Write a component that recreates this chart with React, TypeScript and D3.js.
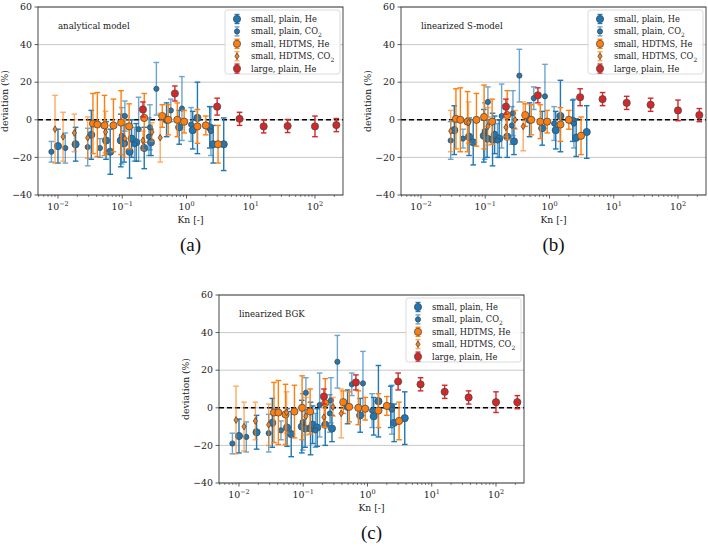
import { useEffect, useRef } from "react";
import * as d3 from "d3";

const knPlainHe = [0.010, 0.0188, 0.033, 0.056, 0.065, 0.095, 0.107, 0.13, 0.14, 0.165, 0.22, 0.28, 0.49, 0.77, 1.25, 1.48, 2.3, 2.6, 3.8];
const errPlainHe = [9, 9, 13, 10, 12, 14, 10, 14, 10, 10, 11, 7, 9, 9, 10, 19, 11, 10, 14];
const plainHeA = [-14, -13, -8, -11, -17, -11, -12.5, -17, -10, -12, -15, -12, 0, -4, -5.5, 1, -4, -13, -13];
const plainHeB = [null, null, -5.5, -9, -12, -8.5, -10, -10.5, -8, -10, -9, -11.5, 0, -4.5, -5.5, 2, -0.5, -9.5, -6.5];
const plainHeC = [-15, -13, -8, -10.5, -14, -10, -11, -11, -9, -10.5, -9, -11, 0.5, -4, -4.5, 3.5, 0.5, -8, -5.5];

const knPlainCO2 = [0.0079, 0.013, 0.029, 0.045, 0.098, 0.11, 0.155, 0.18, 0.26, 0.27, 0.34, 0.57, 0.85, 1.18, 2.4];
const errPlainCO2 = [5.5, 8, 10, 5, 15, 8, 9, 17, 10, 12, 14, 6, 17, 9, 13];
const plainCO2A = [-17, -15, -14.5, -15, -8.5, 2, -13, -5, -9, -4, 16.5, 5, 6, -2.5, -6];
const plainCO2B = [null, null, -11, -10, -6, 9.5, -11, 2, -3, 3.5, 23.5, 11.5, 12.5, -2, -2];
const plainCO2C = [-19, -15.5, -13.5, -12, -7.5, 8, -12, 1.5, -3, 4, 24.5, 12.5, 13, -1.5, -1];

const knHdtmsHe = [0.035, 0.041, 0.053, 0.073, 0.096, 0.128, 0.22, 0.42, 0.52, 0.72, 0.92, 1.48, 2.0, 3.1];
const errHdtmsHe = [16, 17, 16, 14, 17, 12, 13, 6, 8, 9, 6, 9, 5, 10];
const hdtmsHeA = [-2, -2.5, -3, -3, -1.5, -3.5, 1, 2, 0, 0, -1, -3.5, -3, -13];
const hdtmsHeB = [0.5, 0, -1, 0, 1.5, -1, 2.5, 2.5, 0, -1, -1, -2.5, 0, -8.5];
const hdtmsHeC = [-2.5, -2.5, -3.5, -2, 0, -2, 2.5, 3, 0.5, 0, -0.5, -1.5, 1, -7];

const knHdtmsCO2 = [0.009, 0.012, 0.018, 0.029, 0.055, 0.11, 0.21, 0.29, 0.39];
const errHdtmsCO2 = [18, 13, 10, 11, 11, 10, 5, 5, 13];
const hdtmsCO2A = [-5, -9, -7, -9.5, -6.5, -10, -11, -6.5, -9.5];
const hdtmsCO2B = [null, null, null, -6, -1.5, -3.5, -4, 0, -3.5];
const hdtmsCO2C = [-6.5, -10, -7, -9, -2.5, -4.5, -5, 0.5, -3];

const knLargeHe = [0.21, 0.66, 3.0, 6.7, 15.9, 37.5, 100, 215];
const errLargeHe = [4, 4, 4.5, 3.5, 3.5, 3.5, 5.5, 3.5];
const largeHeA = [5.5, 14, 7, 0.5, -3.5, -3.3, -3.5, -2.8];
const largeHeB = [7, 13, 12, 11, 9, 8, 5, 2.5];
const largeHeC = [6, 13.5, 14, 12.5, 8.5, 5.5, 3, 3];

const yTicks = [-40, -20, 0, 20, 40, 60];
const xDecades = [-2, -1, 0, 1, 2];

type Series = {
    label: string;
    sub?: string;
    color: string;
    barOpacity: number;
    marker: "circle" | "diamond";
    size: number;
    kn: number[];
    err: number[];
};

const seriesList: Series[] = [
    { label: "small, plain, He", color: "#1f77b4", barOpacity: 1, marker: "circle", size: 3.6, kn: knPlainHe, err: errPlainHe },
    { label: "small, plain, CO", sub: "2", color: "#1f77b4", barOpacity: 0.65, marker: "circle", size: 2.6, kn: knPlainCO2, err: errPlainCO2 },
    { label: "small, HDTMS, He", color: "#ff7f0e", barOpacity: 1, marker: "circle", size: 3.6, kn: knHdtmsHe, err: errHdtmsHe },
    { label: "small, HDTMS, CO", sub: "2", color: "#ff7f0e", barOpacity: 0.65, marker: "diamond", size: 2.6, kn: knHdtmsCO2, err: errHdtmsCO2 },
    { label: "large, plain, He", color: "#d62728", barOpacity: 1, marker: "circle", size: 3.6, kn: knLargeHe, err: errLargeHe },
];

const panels = [
    { left: 38, top: 7, title: "analytical model", tag: "(a)", values: [plainHeA, plainCO2A, hdtmsHeA, hdtmsCO2A, largeHeA] },
    { left: 401, top: 7, title: "linearized S-model", tag: "(b)", values: [plainHeB, plainCO2B, hdtmsHeB, hdtmsCO2B, largeHeB] },
    { left: 219, top: 295, title: "linearized BGK", tag: "(c)", values: [plainHeC, plainCO2C, hdtmsHeC, hdtmsCO2C, largeHeC] },
];

const W = 305;
const H = 188;
const FONT = "DejaVu Serif, serif";
const EDGE = "#4a4a4a";

function drawMarker(g: any, s: Series, x: number, y: number) {
    if (s.marker === "circle") {
        g.append("circle").attr("cx", x).attr("cy", y).attr("r", s.size)
            .attr("fill", s.color).attr("stroke", EDGE).attr("stroke-width", 0.8);
    } else {
        const w = s.size * 0.8, h = s.size * 1.3;
        g.append("path")
            .attr("d", `M${x},${y - h}L${x + w},${y}L${x},${y + h}L${x - w},${y}Z`)
            .attr("fill", s.color).attr("stroke", EDGE).attr("stroke-width", 0.8);
    }
}

export default function App() {
    const svgRef = useRef<SVGSVGElement>(null);

    useEffect(() => {
        if (!svgRef.current) return;
        const svg = d3.select(svgRef.current);
        svg.selectAll("*").remove();

        panels.forEach((p) => {
            const g = svg.append("g").attr("transform", `translate(${p.left},${p.top})`);
            const x = d3.scaleLog().domain([Math.pow(10, -2.311), Math.pow(10, 2.436)]).range([0, W]);
            const y = d3.scaleLinear().domain([-40, 60]).range([H, 0]);

            // grid
            yTicks.forEach((t) => {
                g.append("line").attr("x1", 0).attr("x2", W).attr("y1", y(t)).attr("y2", y(t))
                    .attr("stroke", "#c8c8c8").attr("stroke-width", 1);
            });

            // zero reference
            g.append("line").attr("x1", 0).attr("x2", W).attr("y1", y(0)).attr("y2", y(0))
                .attr("stroke", "#000").attr("stroke-width", 1.5).attr("stroke-dasharray", "5,3");

            // data
            seriesList.forEach((s, si) => {
                const vals = p.values[si];
                const sg = g.append("g");
                s.kn.forEach((k, i) => {
                    const v = vals[i];
                    if (v === null || v === undefined) return;
                    const cx = x(k);
                    const lo = y(v - s.err[i]);
                    const hi = y(v + s.err[i]);
                    const bar = sg.append("g").attr("stroke", s.color).attr("stroke-width", 1.4).attr("opacity", s.barOpacity);
                    bar.append("line").attr("x1", cx).attr("x2", cx).attr("y1", lo).attr("y2", hi);
                    bar.append("line").attr("x1", cx - 2.8).attr("x2", cx + 2.8).attr("y1", lo).attr("y2", lo);
                    bar.append("line").attr("x1", cx - 2.8).attr("x2", cx + 2.8).attr("y1", hi).attr("y2", hi);
                });
                s.kn.forEach((k, i) => {
                    const v = vals[i];
                    if (v === null || v === undefined) return;
                    drawMarker(sg, s, x(k), y(v));
                });
            });

            // frame
            g.append("rect").attr("width", W).attr("height", H).attr("fill", "none")
                .attr("stroke", "#333").attr("stroke-width", 0.9);

            // y ticks
            yTicks.forEach((t) => {
                g.append("line").attr("x1", -3.5).attr("x2", 0).attr("y1", y(t)).attr("y2", y(t))
                    .attr("stroke", "#333").attr("stroke-width", 0.8);
                g.append("text").attr("x", -6).attr("y", y(t)).attr("dy", "0.35em")
                    .attr("text-anchor", "end").attr("font-family", FONT).attr("font-size", 9.4)
                    .attr("fill", "#222").text(t < 0 ? `\u2212${Math.abs(t)}` : `${t}`);
            });

            // x ticks (major + minor)
            const [d0, d1] = x.domain();
            for (let d = -3; d <= 2; d++) {
                for (let m = 2; m <= 9; m++) {
                    const v = m * Math.pow(10, d);
                    if (v < d0 || v > d1) continue;
                    g.append("line").attr("x1", x(v)).attr("x2", x(v)).attr("y1", H).attr("y2", H + 2)
                        .attr("stroke", "#333").attr("stroke-width", 0.6);
                }
            }
            xDecades.forEach((d) => {
                const xv = x(Math.pow(10, d));
                g.append("line").attr("x1", xv).attr("x2", xv).attr("y1", H).attr("y2", H + 3.5)
                    .attr("stroke", "#333").attr("stroke-width", 0.8);
                const t = g.append("text").attr("x", xv).attr("y", H + 15)
                    .attr("text-anchor", "middle").attr("font-family", FONT).attr("font-size", 9.4).attr("fill", "#222");
                t.append("tspan").text("10");
                t.append("tspan").attr("dy", -4).attr("font-size", 6.5).text(d < 0 ? `\u2212${Math.abs(d)}` : `${d}`);
            });

            // axis labels
            g.append("text").attr("x", W / 2).attr("y", H + 28).attr("text-anchor", "middle")
                .attr("font-family", FONT).attr("font-size", 9.2).attr("fill", "#222").text("Kn [-]");
            g.append("text").attr("transform", `translate(${-30},${H / 2}) rotate(-90)`)
                .attr("text-anchor", "middle").attr("font-family", FONT).attr("font-size", 9.2)
                .attr("fill", "#222").text("deviation (%)");

            // model name
            g.append("text").attr("x", 20).attr("y", 22).attr("font-family", FONT).attr("font-size", 8.6)
                .attr("fill", "#222").text(p.title);

            // legend
            const lg = g.append("g").attr("transform", `translate(${W - 118},3)`);
            lg.append("rect").attr("width", 115).attr("height", 64).attr("rx", 2.5)
                .attr("fill", "#fff").attr("fill-opacity", 0.85).attr("stroke", "#d0d0d0").attr("stroke-width", 0.8);
            seriesList.forEach((s, i) => {
                const ry = 9 + i * 12.4;
                const bar = lg.append("g").attr("stroke", s.color).attr("stroke-width", 1.4).attr("opacity", s.barOpacity);
                bar.append("line").attr("x1", 12).attr("x2", 12).attr("y1", ry - 4.5).attr("y2", ry + 4.5);
                bar.append("line").attr("x1", 9.5).attr("x2", 14.5).attr("y1", ry - 4.5).attr("y2", ry - 4.5);
                bar.append("line").attr("x1", 9.5).attr("x2", 14.5).attr("y1", ry + 4.5).attr("y2", ry + 4.5);
                drawMarker(lg, s, 12, ry);
                const t = lg.append("text").attr("x", 26).attr("y", ry).attr("dy", "0.35em")
                    .attr("font-family", FONT).attr("font-size", 8.3).attr("fill", "#222");
                t.append("tspan").text(s.label);
                if (s.sub) t.append("tspan").attr("dy", 2.5).attr("font-size", 6).text(s.sub);
            });

            // panel tag
            svg.append("text").attr("x", p.left + W / 2).attr("y", p.top + H + 56)
                .attr("text-anchor", "middle").attr("font-family", "Liberation Serif, serif")
                .attr("font-size", 19).attr("fill", "#111").text(p.tag);
        });
    }, []);

    return (
        <svg
            ref={svgRef}
            width={708}
            height={548}
            style={{ position: "absolute", left: 0, top: 0, background: "#fff" }}
        ></svg>
    );
}
